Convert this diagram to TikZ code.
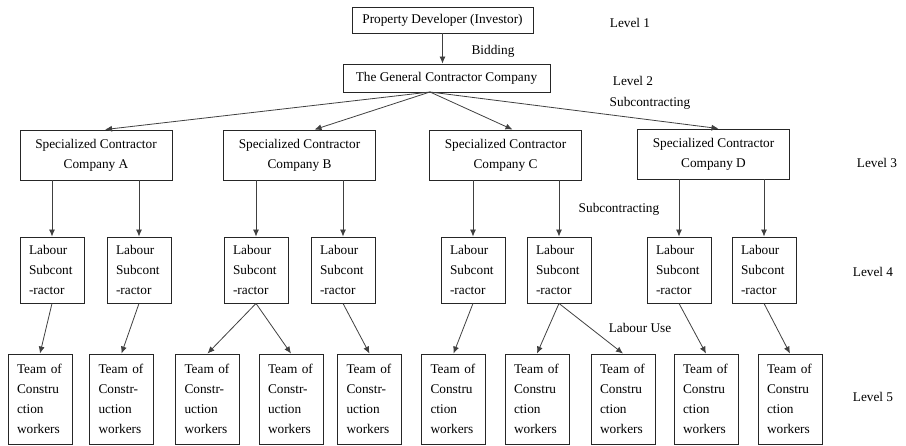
\documentclass[tikz,border=0pt]{standalone}
\usepackage{fontspec}
\setmainfont{Liberation Serif}
\usetikzlibrary{arrows.meta}
\begin{document}
\begin{tikzpicture}[x=1pt,y=-1pt,
  every node/.style={font=\fontsize{13.3}{20}\selectfont},
  box/.style={draw=black!85,line width=0.9pt,inner sep=0pt,align=center},
  lab/.style={box,minimum width=64pt,minimum height=66pt,text width=46pt,align=left},
  team/.style={box,minimum width=64pt,minimum height=90pt,text width=46pt,align=left},
  arr/.style={draw=black!75,line width=0.8pt,-{Latex[length=7pt,width=6pt]}}]
\useasboundingbox (0,0) rectangle (906,446);
\node[box,minimum width=181pt,minimum height=26pt] (dev) at (442.5,20) {Property Developer (Investor)};
\node[box,minimum width=207pt,minimum height=28pt] (gen) at (446.5,78) {The General Contractor Company};
\node[box,minimum width=152pt,minimum height=50pt] (specA) at (96,155) {Specialized Contractor\\Company A};
\node[box,minimum width=152pt,minimum height=50pt] (specB) at (299.5,155) {Specialized Contractor\\Company B};
\node[box,minimum width=152pt,minimum height=50pt] (specC) at (505.5,155) {Specialized Contractor\\Company C};
\node[box,minimum width=152pt,minimum height=50pt] (specD) at (713.5,154) {Specialized Contractor\\Company D};
\node[lab] (lab1) at (52,270) {Labour\\Subcont\\-ractor};
\node[lab] (lab2) at (139,270) {Labour\\Subcont\\-ractor};
\node[lab] (lab3) at (256,270) {Labour\\Subcont\\-ractor};
\node[lab] (lab4) at (343,270) {Labour\\Subcont\\-ractor};
\node[lab] (lab5) at (473,270) {Labour\\Subcont\\-ractor};
\node[lab] (lab6) at (559,270) {Labour\\Subcont\\-ractor};
\node[lab] (lab7) at (679,270) {Labour\\Subcont\\-ractor};
\node[lab] (lab8) at (764,270) {Labour\\Subcont\\-ractor};
\node[team] (team1) at (40,399) {Team of\\Constru\\ction\\workers};
\node[team] (team2) at (121.5,399) {Team of\\Constr-\\uction\\workers};
\node[team] (team3) at (207.5,399) {Team of\\Constr-\\uction\\workers};
\node[team] (team4) at (291,399) {Team of\\Constr-\\uction\\workers};
\node[team] (team5) at (369.5,399) {Team of\\Constr-\\uction\\workers};
\node[team] (team6) at (453.5,399) {Team of\\Constru\\ction\\workers};
\node[team] (team7) at (537,399) {Team of\\Constru\\ction\\workers};
\node[team] (team8) at (623,399) {Team of\\Constru\\ction\\workers};
\node[team] (team9) at (706,399) {Team of\\Constru\\ction\\workers};
\node[team] (team10) at (790,399) {Team of\\Constru\\ction\\workers};
\node (lev1) at (630,23) {Level 1};
\node (lev2) at (633,81) {Level 2};
\node (lev3) at (877,163) {Level 3};
\node (lev4) at (873,272) {Level 4};
\node (lev5) at (873,397) {Level 5};
\node (bid) at (493,51) {Bidding};
\node (sub1) at (650,103) {Subcontracting};
\node (sub2) at (619,209) {Subcontracting};
\node (use) at (640,328) {Labour Use};
\coordinate (split) at (430,92);
\draw[arr] (dev.south) -- (dev.south |- gen.north);
\draw[arr] (split) -- ([xshift=9pt]specA.north);
\draw[arr] (split) -- ([xshift=15pt]specB.north);
\draw[arr] (split) -- ([xshift=7pt]specC.north);
\draw[arr] (split) -- ([xshift=5pt]specD.north);
\draw[arr] (lab1.north |- specA.south) -- (lab1.north);
\draw[arr] (lab2.north |- specA.south) -- (lab2.north);
\draw[arr] (lab3.north |- specB.south) -- (lab3.north);
\draw[arr] (lab4.north |- specB.south) -- (lab4.north);
\draw[arr] (lab5.north |- specC.south) -- (lab5.north);
\draw[arr] (lab6.north |- specC.south) -- (lab6.north);
\draw[arr] (lab7.north |- specD.south) -- (lab7.north);
\draw[arr] (lab8.north |- specD.south) -- (lab8.north);
\draw[arr] (lab1.south) -- (team1.north);
\draw[arr] (lab2.south) -- (team2.north);
\draw[arr] (lab3.south) -- (team3.north);
\draw[arr] (lab3.south) -- (team4.north);
\draw[arr] (lab4.south) -- (team5.north);
\draw[arr] (lab5.south) -- (team6.north);
\draw[arr] (lab6.south) -- (team7.north);
\draw[arr] (lab6.south) -- (team8.north);
\draw[arr] (lab7.south) -- (team9.north);
\draw[arr] (lab8.south) -- (team10.north);
\end{tikzpicture}
\end{document}
